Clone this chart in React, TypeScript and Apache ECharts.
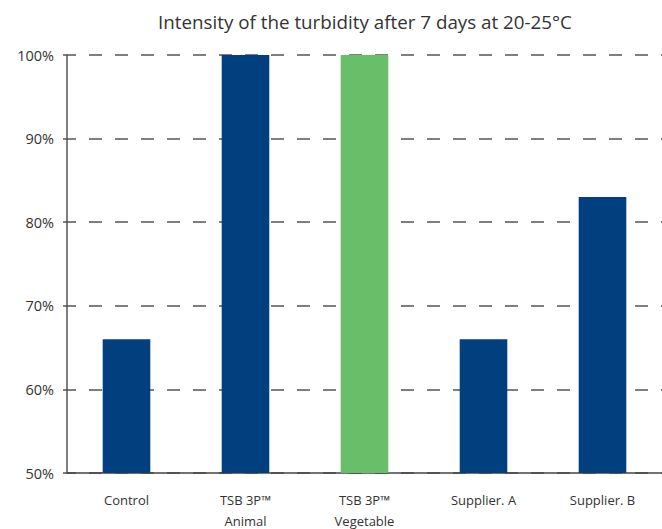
import React, { useEffect, useRef } from "react";
import * as echarts from "echarts";

const title = "Intensity of the turbidity after 7 days at 20-25°C";
const categories = ["Control", "TSB 3P™\nAnimal", "TSB 3P™\nVegetable", "Supplier. A", "Supplier. B"];
const values = [66, 100, 100, 66, 83];
const barColors = ["#013F7F", "#013F7F", "#69BE6A", "#013F7F", "#013F7F"];
const yMin = 50;
const yMax = 100;
const yInterval = 10;

export default function App() {
  const ref = useRef<HTMLDivElement>(null);
  useEffect(() => {
    if (!ref.current) return;
    const chart = echarts.init(ref.current, undefined, { renderer: "svg" });
    chart.setOption({
      animation: false,
      backgroundColor: "#ffffff",
      title: {
        text: title,
        left: 360,
        textAlign: "center",
        top: 7,
        textStyle: { fontFamily: "Open Sans", fontSize: 18.8, fontWeight: "normal", color: "#333333" },
      },
      grid: { left: 67, right: 0, top: 55, bottom: 56, outerBoundsMode: "none", containLabel: false },
      xAxis: {
        type: "category",
        data: categories,
        axisLine: { show: true, lineStyle: { color: "#444444", width: 1.5 } },
        axisTick: { show: false },
        axisLabel: {
          fontFamily: "Open Sans",
          fontSize: 13,
          color: "#333333",
          margin: 16,
          lineHeight: 21,
        },
      },
      yAxis: {
        type: "value",
        min: yMin,
        max: yMax,
        interval: yInterval,
        axisLine: { show: true, lineStyle: { color: "#555555", width: 1.5 } },
        axisTick: { show: true, length: 4, lineStyle: { color: "#555555", width: 1.5 } },
        axisLabel: {
          fontFamily: "Open Sans",
          fontSize: 14.5,
          color: "#333333",
          margin: 13,
          formatter: (v: number) => `${v}%`,
        },
        splitLine: {
          show: true,
          lineStyle: { color: "#555555", width: 1.5, type: [13, 13], dashOffset: 4 },
        },
      },
      series: [
        {
          type: "bar",
          data: values.map((v, i) => ({ value: v, itemStyle: { color: barColors[i] } })),
          barWidth: "40%",
        },
      ],
    });
    return () => chart.dispose();
  }, []);
  return <div ref={ref} style={{ position: "fixed", left: 0, top: 0, width: 662, height: 529 }} />;
}
